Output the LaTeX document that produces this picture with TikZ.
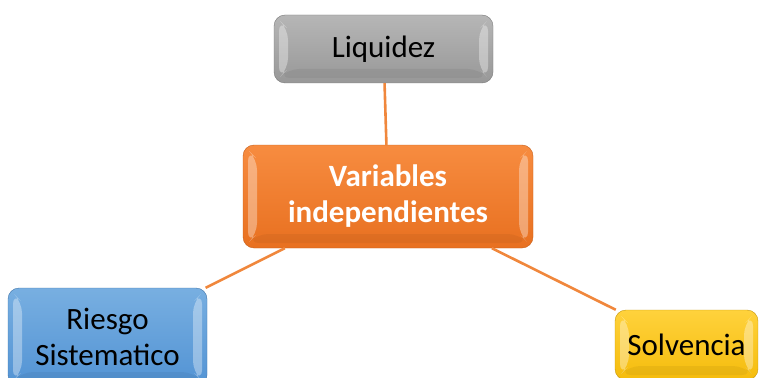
\documentclass[tikz,border=0pt]{standalone}
\usepackage{fontspec}
\setmainfont{Carlito}
\usetikzlibrary{calc}
\definecolor{orL}{RGB}{247,140,64}
\definecolor{orD}{RGB}{232,112,32}
\definecolor{grL}{RGB}{182,182,182}
\definecolor{grD}{RGB}{152,152,152}
\definecolor{blL}{RGB}{120,175,225}
\definecolor{blD}{RGB}{82,147,212}
\definecolor{yeL}{RGB}{255,210,60}
\definecolor{yeD}{RGB}{245,188,12}
\definecolor{lnk}{RGB}{240,135,60}
\tikzstyle{bevel} = [path picture={
    \path (path picture bounding box.south west) coordinate (bsw)
          (path picture bounding box.north east) coordinate (bne);
    \fill[white,opacity=.35] ($(bsw)+(5,5)$) -- ($(bsw)+(14,14)$) -- ($(bsw|-bne)+(14,-14)$) -- ($(bsw|-bne)+(5,-5)$) -- cycle;
    \fill[white,opacity=.35] ($(bne|-bsw)+(-5,5)$) -- ($(bne|-bsw)+(-14,14)$) -- ($(bne)+(-14,-14)$) -- ($(bne)+(-5,-5)$) -- cycle;
    \fill[black,opacity=.05] ($(bsw)+(5,5)$) -- ($(bsw)+(14,14)$) -- ($(bne|-bsw)+(-14,14)$) -- ($(bne|-bsw)+(-5,5)$) -- cycle;
}]
\tikzstyle{box_b} = [rectangle, rounded corners=11pt, align=center, inner sep=0pt, bevel, font=\fontsize{31}{36}\selectfont]
\tikzstyle{box_g} = [box_b, top color=grL, bottom color=grD, draw=grD!80!black]
\tikzstyle{box_o} = [box_b, top color=orL, bottom color=orD, draw=orD!85!black, text=white, font=\fontsize{31}{36}\selectfont\bfseries]
\tikzstyle{box_l} = [box_b, top color=blL, bottom color=blD, draw=blD!80!black]
\tikzstyle{box_y} = [box_b, top color=yeL, bottom color=yeD, draw=yeD!80!black]
\tikzstyle{link} = [draw=lnk, line width=2.6pt]

\begin{document}
\begin{tikzpicture}[x=1pt,y=1pt]
\useasboundingbox (0,0) rectangle (759,-377);
\node [box_o, minimum width=290, minimum height=103] (var) at (388,-196.5) {Variables\\independientes};
\node [box_g, minimum width=219, minimum height=68] (liq) at (383.5,-49) {Liquidez};
\node [box_l, minimum width=199, minimum height=98] (rie) at (107.5,-337) {Riesgo\\Sistematico};
\node [box_y, minimum width=143, minimum height=70] (sol) at (686.5,-345) {Solvencia};
\draw [link] (liq) -- (var);
\draw [link] (var) -- (rie);
\draw [link] (var) -- (sol);
\end{tikzpicture}
\end{document}
